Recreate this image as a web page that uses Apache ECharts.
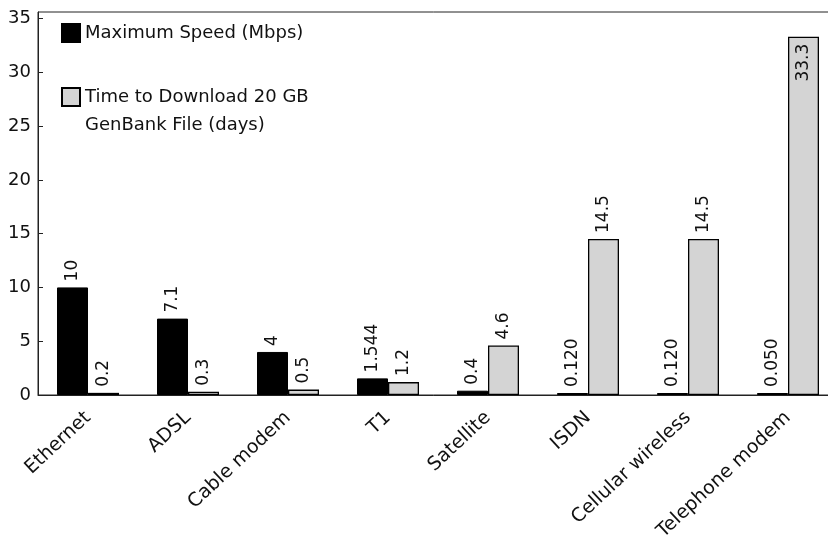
<!DOCTYPE html>
<html>
<head>
<meta charset="utf-8">
<script src="https://cdn.jsdelivr.net/npm/echarts@6/dist/echarts.min.js"></script>
<style>html,body{margin:0;padding:0;background:#fff;}#c{width:828px;height:536px;}</style>
</head>
<body>
<div id="c"></div>
<script>
var categories = ['Ethernet', 'ADSL', 'Cable modem', 'T1', 'Satellite', 'ISDN', 'Cellular wireless', 'Telephone modem'];
var speedValues = [10, 7.1, 4, 1.544, 0.4, 0.12, 0.12, 0.05];
var speedLabels = ['10', '7.1', '4', '1.544', '0.4', '0.120', '0.120', '0.050'];
var daysValues = [0.2, 0.3, 0.5, 1.2, 4.6, 14.5, 14.5, 33.3];
var daysLabels = ['0.2', '0.3', '0.5', '1.2', '4.6', '14.5', '14.5', '33.3'];
var yTicks = [0, 5, 10, 15, 20, 25, 30, 35];
var speedName = 'Maximum Speed (Mbps)';
var daysName = 'Time to Download 20 GB\nGenBank File (days)';

var FONT = 'DejaVu Sans';
var chart = echarts.init(document.getElementById('c'));

var labelBase = {
  show: true, position: 'top', rotate: 90, align: 'left', verticalAlign: 'middle',
  distance: 6, fontFamily: FONT, fontSize: 17, color: '#111'
};

var speedData = speedValues.map(function (v, i) {
  return { value: v, label: { formatter: speedLabels[i] } };
});
var daysData = daysValues.map(function (v, i) {
  var d = { value: v, label: { formatter: daysLabels[i] } };
  if (v > 30) {
    d.label.position = 'insideTop';
    d.label.align = 'right';
    d.label.distance = 7;
  }
  return d;
});

chart.setOption({
  animation: false,
  backgroundColor: '#fff',
  grid: {
    left: 38, top: 12, width: 800, bottom: 141, containLabel: false, outerBoundsMode: 'none',
    show: true, borderColor: '#222', borderWidth: 1, backgroundColor: 'transparent'
  },
  legend: [
    {
      data: [speedName], orient: 'vertical', left: 61, top: 19, padding: 0,
      itemWidth: 18, itemHeight: 18, icon: 'rect', itemGap: 7,
      textStyle: { fontFamily: FONT, fontSize: 18, color: '#111', lineHeight: 28 }
    },
    {
      data: [daysName], orient: 'vertical', left: 61, top: 55, padding: 0,
      itemWidth: 18, itemHeight: 18, icon: 'rect', itemGap: 7,
      formatter: function (name) { return ' \n' + name; },
      textStyle: { fontFamily: FONT, fontSize: 18, color: '#111', lineHeight: 28 }
    }
  ],
  xAxis: {
    type: 'category', data: categories,
    axisLine: { lineStyle: { color: '#222', width: 1 } },
    axisTick: { show: false },
    axisLabel: { rotate: 43, margin: 20, fontFamily: FONT, fontSize: 19, color: '#111', interval: 0 }
  },
  yAxis: {
    type: 'value', min: 0, max: 35.6, interval: 5,
    axisLine: { show: true, lineStyle: { color: '#222', width: 1 } },
    axisTick: { show: true, inside: true, length: 5, lineStyle: { color: '#222' } },
    splitLine: { show: false },
    axisLabel: {
      showMaxLabel: false, margin: 7, fontFamily: FONT, fontSize: 18, color: '#111',
      formatter: function (v) { return yTicks.indexOf(v) >= 0 ? String(v) : ''; }
    }
  },
  series: [
    {
      name: speedName, type: 'bar', data: speedData, barWidth: 31, barGap: '0%', barMinHeight: 2,
      itemStyle: { color: '#000', borderColor: '#000', borderWidth: 1 },
      label: labelBase
    },
    {
      name: daysName, type: 'bar', data: daysData, barWidth: 31, barGap: '0%',
      itemStyle: { color: '#d4d4d4', borderColor: '#000', borderWidth: 1.3 },
      label: labelBase
    }
  ]
});
</script>
</body>
</html>
